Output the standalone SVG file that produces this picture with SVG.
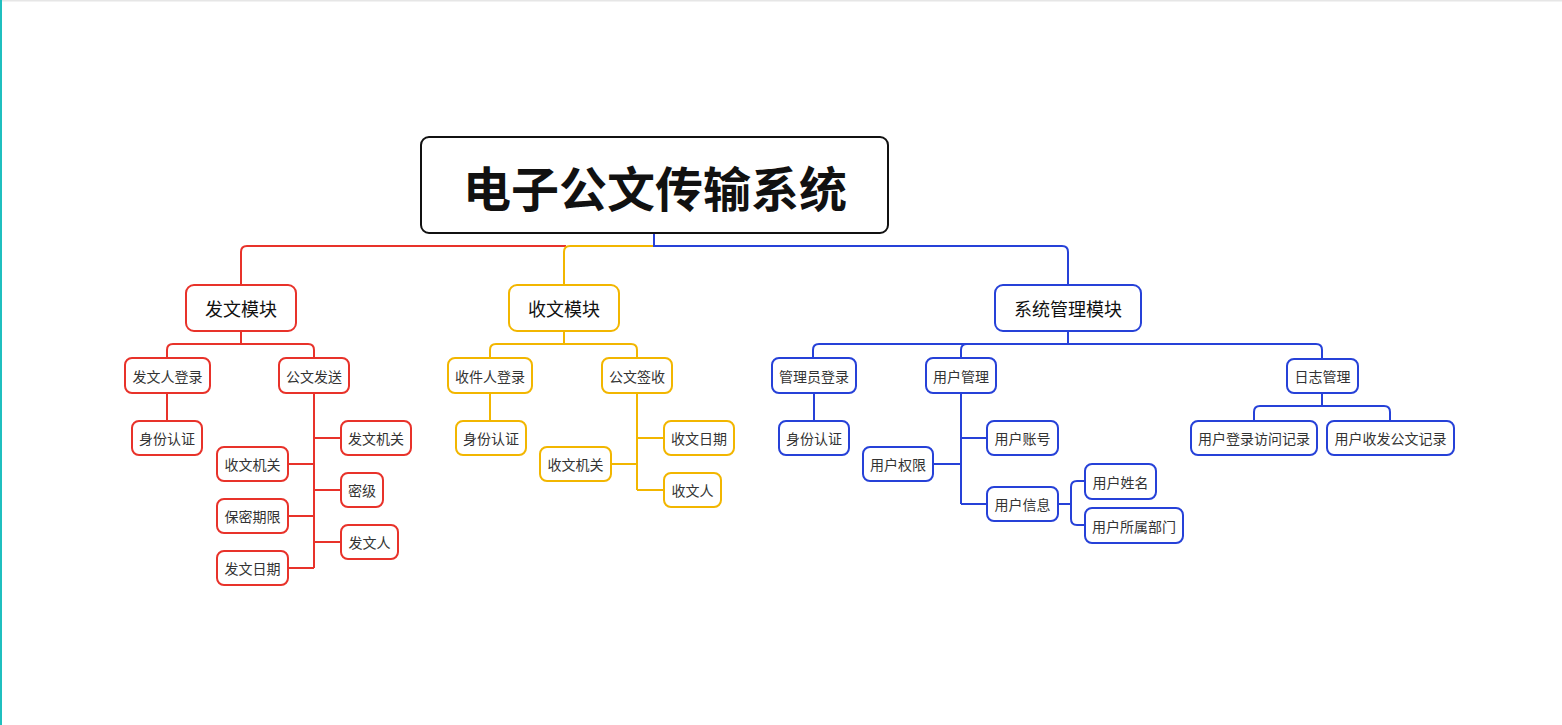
<svg xmlns="http://www.w3.org/2000/svg" width="1562" height="725" viewBox="0 0 1562 725">
<style>
text{font-family:"Microsoft YaHei","Noto Sans CJK SC","Noto Sans",sans-serif;text-anchor:middle;dominant-baseline:central}
.n rect{fill:#fff;stroke-width:2}
.r rect{stroke:#e8322a}.y rect{stroke:#f2b600}.b rect{stroke:#2641d8}
.l1 text{font-size:18px;fill:#111}
.l2 text{font-size:14px;fill:#333}
#conn path{fill:none;stroke-width:2}
.cr{stroke:#e8322a}.cy{stroke:#f2b600}.cb{stroke:#2641d8}
</style>
<rect x="0" y="0" width="1562" height="725" fill="#fff"/>
<rect x="0" y="0" width="1562" height="1.5" fill="#e6e6e6"/>
<rect x="0" y="0" width="2" height="725" fill="#1fbfbf"/>
<g id="conn">
<path class="cr" d="M566 246 H247 Q241 246 241 252 V285"/>
<path class="cy" d="M654 246 H570 Q564 246 564 252 V285"/>
<path class="cb" d="M654 233 V246 H1062 Q1068 246 1068 252 V285"/>
<path class="cr" d="M241 331 V344 M167 358 V350 Q167 344 173 344 H308 Q314 344 314 350 V358"/>
<path class="cr" d="M167 393 V421"/>
<path class="cr" d="M314 393 V568 M288 464 H314 M288 516 H314 M288 568 H314 M314 438 H341 M314 490 H341 M314 542 H341"/>
<path class="cy" d="M564 331 V344 M490 358 V350 Q490 344 496 344 H631 Q637 344 637 350 V358"/>
<path class="cy" d="M490 393 V421"/>
<path class="cy" d="M637 393 V490 M637 438 H664 M611 464 H637 M637 490 H664"/>
<path class="cb" d="M1068 331 V344 M813 358 V350 Q813 344 819 344 H1316 Q1322 344 1322 350 V359 M961 358 V350 Q961 344 967 344"/>
<path class="cb" d="M814 393 V421"/>
<path class="cb" d="M961 393 V504 M961 438 H987 M933 464 H961 M961 504 H987"/>
<path class="cb" d="M1058 504 H1071 M1085 481 H1077 Q1071 481 1071 487 V519 Q1071 525 1077 525 H1085"/>
<path class="cb" d="M1322 393 V406 M1254 421 V412 Q1254 406 1260 406 H1384 Q1390 406 1390 412 V421"/>
</g>
<g id="root">
<rect x="421" y="137" width="467" height="96" rx="8" fill="#fff" stroke="#111" stroke-width="2"/>
<text x="655" y="186" font-size="48" font-weight="bold" fill="#111">电子公文传输系统</text>
</g>
<g id="fawen" class="n r l1"><rect x="186" y="285" width="110" height="46" rx="8"/><text x="241" y="308">发文模块</text></g>
<g id="shouwen" class="n y l1"><rect x="509" y="285" width="110" height="46" rx="8"/><text x="564" y="308">收文模块</text></g>
<g id="xitong" class="n b l1"><rect x="995" y="285" width="146" height="46" rx="8"/><text x="1068" y="308">系统管理模块</text></g>
<g class="n r l2">
<g id="fwrdl"><rect x="125" y="358" width="85" height="35" rx="7"/><text x="167.5" y="376">发文人登录</text></g>
<g id="gwfs"><rect x="279" y="358" width="70" height="35" rx="7"/><text x="314" y="376">公文发送</text></g>
<g id="sfrz1"><rect x="132" y="421" width="70" height="34" rx="7"/><text x="167" y="438">身份认证</text></g>
<g id="fwjg"><rect x="341" y="421" width="70" height="34" rx="7"/><text x="376" y="438">发文机关</text></g>
<g id="mj"><rect x="341" y="473" width="42" height="34" rx="7"/><text x="362" y="490">密级</text></g>
<g id="fwr"><rect x="341" y="525" width="57" height="34" rx="7"/><text x="369.5" y="542">发文人</text></g>
<g id="swjg1"><rect x="217" y="447" width="71" height="34" rx="7"/><text x="252.5" y="464">收文机关</text></g>
<g id="bmqx"><rect x="217" y="499" width="71" height="34" rx="7"/><text x="252.5" y="516">保密期限</text></g>
<g id="fwrq"><rect x="217" y="551" width="71" height="34" rx="7"/><text x="252.5" y="568">发文日期</text></g>
</g>
<g class="n y l2">
<g id="sjrdl"><rect x="448" y="358" width="84" height="35" rx="7"/><text x="490" y="376">收件人登录</text></g>
<g id="gwqs"><rect x="602" y="358" width="70" height="35" rx="7"/><text x="637" y="376">公文签收</text></g>
<g id="sfrz2"><rect x="456" y="421" width="70" height="34" rx="7"/><text x="491" y="438">身份认证</text></g>
<g id="swrq"><rect x="664" y="421" width="70" height="34" rx="7"/><text x="699" y="438">收文日期</text></g>
<g id="swjg2"><rect x="540" y="447" width="71" height="34" rx="7"/><text x="575.5" y="464">收文机关</text></g>
<g id="swr"><rect x="664" y="473" width="57" height="34" rx="7"/><text x="692.5" y="490">收文人</text></g>
</g>
<g class="n b l2">
<g id="glydl"><rect x="772" y="358" width="84" height="35" rx="7"/><text x="814" y="376">管理员登录</text></g>
<g id="yhgl"><rect x="926" y="358" width="70" height="35" rx="7"/><text x="961" y="376">用户管理</text></g>
<g id="rzgl"><rect x="1287" y="359" width="71" height="34" rx="7"/><text x="1322.5" y="376">日志管理</text></g>
<g id="sfrz3"><rect x="779" y="421" width="70" height="34" rx="7"/><text x="814" y="438">身份认证</text></g>
<g id="yhzh"><rect x="987" y="421" width="71" height="34" rx="7"/><text x="1022.5" y="438">用户账号</text></g>
<g id="yhqx"><rect x="863" y="447" width="70" height="34" rx="7"/><text x="898" y="464">用户权限</text></g>
<g id="yhxx"><rect x="987" y="487" width="71" height="34" rx="7"/><text x="1022.5" y="504">用户信息</text></g>
<g id="yhxm"><rect x="1085" y="464" width="71" height="35" rx="7"/><text x="1120.5" y="481.5">用户姓名</text></g>
<g id="yhssbm"><rect x="1085" y="508" width="98" height="35" rx="7"/><text x="1134" y="525.5">用户所属部门</text></g>
<g id="yhdl"><rect x="1191" y="421" width="126" height="34" rx="7"/><text x="1254" y="438">用户登录访问记录</text></g>
<g id="yhsf"><rect x="1327" y="421" width="127" height="34" rx="7"/><text x="1390.5" y="438">用户收发公文记录</text></g>
</g>
</svg>
